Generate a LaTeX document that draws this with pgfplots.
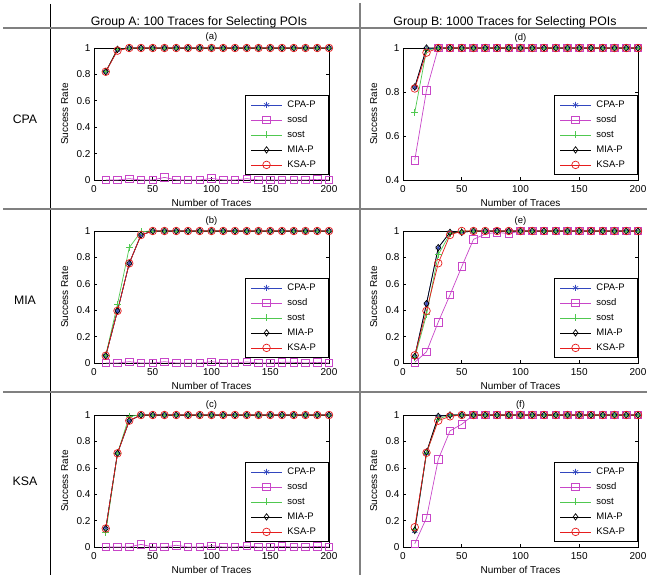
\documentclass[border=0pt]{standalone}
\usepackage{fontspec}
\setmainfont{Liberation Sans}
\usepackage{pgfplots}
\usepackage{pgfplotstable}
\pgfplotsset{compat=1.18}

\definecolor{cpac}{RGB}{50,70,190}
\definecolor{sosdc}{RGB}{200,70,200}
\definecolor{sostc}{RGB}{80,200,80}
\definecolor{ksac}{RGB}{230,30,30}

% (a) CPA, Group A
\pgfplotstableread{
x cpa sosd sost mia ksa
10 0.82 0 0.82 0.82 0.82
20 0.985 0 0.99 0.99 0.98
30 1 0.01 1 1 1
40 1 0 1 1 1
50 1 0 1 1 1
60 1 0.02 1 1 1
70 1 0 1 1 1
80 1 0 1 1 1
90 1 0 1 1 1
100 1 0.012 1 1 1
110 1 0 1 1 1
120 1 0 1 1 1
130 1 0.01 1 1 1
140 1 0 1 1 1
150 1 0 1 1 1
160 1 0 1 1 1
170 1 0 1 1 1
180 1 0 1 1 1
190 1 0.005 1 1 1
200 1 0 1 1 1
}\tabA
% (b) MIA, Group A
\pgfplotstableread{
x cpa sosd sost mia ksa
10 0.055 0 0.058 0.055 0.055
20 0.395 0 0.446 0.395 0.395
30 0.755 0.01 0.874 0.755 0.755
40 0.97 0 0.995 0.97 0.97
50 1 0 1 1 1
60 1 0.01 1 1 1
70 1 0 1 1 1
80 1 0 1 1 1
90 1 0 1 1 1
100 1 0.01 1 1 1
110 1 0 1 1 1
120 1 0 1 1 1
130 1 0.008 1 1 1
140 1 0 1 1 1
150 1 0 1 1 1
160 1 0.005 1 1 1
170 1 0.005 1 1 1
180 1 0 1 1 1
190 1 0.005 1 1 1
200 1 0 1 1 1
}\tabB
% (c) KSA, Group A
\pgfplotstableread{
x cpa sosd sost mia ksa
10 0.14 0 0.11 0.14 0.14
20 0.71 0 0.71 0.71 0.71
30 0.957 0 0.99 0.957 0.957
40 1 0.02 1 1 1
50 1 0 1 1 1
60 1 0 1 1 1
70 1 0.013 1 1 1
80 1 0 1 1 1
90 1 0 1 1 1
100 1 0.01 1 1 1
110 1 0 1 1 1
120 1 0 1 1 1
130 1 0.008 1 1 1
140 1 0 1 1 1
150 1 0 1 1 1
160 1 0.005 1 1 1
170 1 0 1 1 1
180 1 0 1 1 1
190 1 0.005 1 1 1
200 1 0 1 1 1
}\tabC
% (d) CPA, Group B
\pgfplotstableread{
x cpa sosd sost mia ksa
10 0.82 0.49 0.707 0.823 0.816
20 0.997 0.808 0.99 1 0.979
30 1 1 1 1 1
40 1 1 1 1 1
50 1 1 1 1 1
60 1 1 1 1 1
70 1 1 1 1 1
80 1 1 1 1 1
90 1 1 1 1 1
100 1 1 1 1 1
110 1 1 1 1 1
120 1 1 1 1 1
130 1 1 1 1 1
140 1 1 1 1 1
150 1 1 1 1 1
160 1 1 1 1 1
170 1 1 1 1 1
180 1 1 1 1 1
190 1 1 1 1 1
200 1 1 1 1 1
}\tabD
% (e) MIA, Group B
\pgfplotstableread{
x cpa sosd sost mia ksa
10 0.05 0.005 0.04 0.05 0.058
20 0.45 0.085 0.365 0.45 0.395
30 0.874 0.31 0.82 0.874 0.756
40 0.99 0.516 0.98 0.99 0.97
50 0.99 0.73 1 0.99 1
60 1 0.937 1 1 1
70 1 0.977 1 1 1
80 1 0.99 1 1 1
90 1 0.98 1 1 1
100 1 1 1 1 1
110 1 1 1 1 1
120 1 1 1 1 1
130 1 1 1 1 1
140 1 1 1 1 1
150 1 1 1 1 1
160 1 1 1 1 1
170 1 1 1 1 1
180 1 1 1 1 1
190 1 1 1 1 1
200 1 1 1 1 1
}\tabE
% (f) KSA, Group B
\pgfplotstableread{
x cpa sosd sost mia ksa
10 0.12 0.025 0.13 0.127 0.15
20 0.71 0.22 0.71 0.72 0.714
30 0.99 0.663 0.97 0.99 0.957
40 1 0.88 1 1 0.99
50 1 0.93 1 1 1
60 1 1 1 1 1
70 1 1 1 1 1
80 1 1 1 1 1
90 1 1 1 1 1
100 1 1 1 1 1
110 1 1 1 1 1
120 1 1 1 1 1
130 1 1 1 1 1
140 1 1 1 1 1
150 1 1 1 1 1
160 1 1 1 1 1
170 1 1 1 1 1
180 1 1 1 1 1
190 1 1 1 1 1
200 1 1 1 1 1
}\tabF

\pgfplotsset{
  myaxis/.style={
    scale only axis, width=235pt, height=132pt,
    anchor=south west,
    xmin=0, xmax=200, ymin=0, ymax=1,
    xtick={0,50,100,150,200},
    ytick={0,0.2,0.4,0.6,0.8,1},
    tick align=inside, tick pos=both, major tick length=3pt,
    axis line style={line width=0.7pt},
    every tick/.style={black, line width=0.6pt},
    ticklabel style={font=\fontsize{10}{12}\selectfont},
    /pgf/number format/assume math mode=true,
    xticklabel style={anchor=base, yshift=-12.7pt},
    xlabel={Number of Traces}, ylabel={Success Rate},
    label style={font=\fontsize{10}{12}\selectfont},
    xlabel style={at={(0.5,-0.197)}, anchor=base},
    ylabel style={at={(-0.1106,0.5)}, anchor=base},
    every axis title shift=0pt,
    title style={at={(0.5,1.0606)}, anchor=base, font=\fontsize{9.5}{11}\selectfont},
    clip=false,
    legend image code/.code={\draw[mark repeat=2,mark phase=2,#1, line width=0.7pt] plot coordinates {(0pt,0pt) (15.5pt,0pt) (31pt,0pt)};},
    legend style={at={(1,0.038)}, anchor=south east,
      font=\fontsize{9.5}{11}\selectfont, draw=black, line width=1.2pt,
      fill=white, inner xsep=5pt, inner ysep=2pt, column sep=2pt, row sep=0pt,
      cells={anchor=west},
      nodes={inner xsep=3pt, inner ysep=3pt, text height=7pt, text depth=2pt, text width=33pt}},
  },
  cpa/.style={cpac, line width=0.7pt, mark=asterisk, mark size=3pt, mark options={solid}},
  sosd/.style={sosdc, line width=0.7pt, mark=square, mark size=3.8pt},
  sost/.style={sostc, line width=0.7pt, mark=+, mark size=3.5pt},
  mia/.style={black, line width=0.7pt, mark=diamond, mark size=3.2pt},
  ksa/.style={ksac, line width=0.7pt, mark=o, mark size=3.8pt},
}

\newcommand{\fiveplots}[1]{%
  \addplot[cpa] table[x=x,y=cpa]{#1};
  \addplot[sosd] table[x=x,y=sosd]{#1};
  \addplot[sost] table[x=x,y=sost]{#1};
  \addplot[mia] table[x=x,y=mia]{#1};
  \addplot[ksa] table[x=x,y=ksa]{#1};
  \legend{CPA-P,sosd,sost,MIA-P,KSA-P}
}

\begin{document}
\begin{tikzpicture}
\path[use as bounding box] (0pt,0pt) rectangle (647pt,579pt);

% table lines
\draw[black, line width=0.8pt] (50pt,575pt) -- (50pt,4pt);
\draw[gray, line width=1.1pt] (360pt,576pt) -- (360pt,4pt);
\draw[gray, line width=1.1pt] (3pt,551pt) -- (647pt,551pt);
\draw[gray, line width=1.1pt] (3pt,370pt) -- (647pt,370pt);
\draw[gray, line width=1.1pt] (3pt,187pt) -- (647pt,187pt);

% headers
\node[font=\fontsize{12.3}{14}\selectfont] at (199pt,557pt) {Group A: 100 Traces for Selecting POIs};
\node[font=\fontsize{12.3}{14}\selectfont] at (505pt,557pt) {Group B: 1000 Traces for Selecting POIs};
\node[font=\fontsize{12.3}{14}\selectfont] at (25pt,460pt) {CPA};
\node[font=\fontsize{12.3}{14}\selectfont] at (25pt,279pt) {MIA};
\node[font=\fontsize{12.3}{14}\selectfont] at (25pt,98pt) {KSA};

\begin{axis}[myaxis, at={(94pt,399pt)}, title={(a)}]
\fiveplots{\tabA}
\end{axis}
\begin{axis}[myaxis, at={(403pt,399pt)}, title={(d)}, ymin=0.4, ytick={0.4,0.6,0.8,1}]
\fiveplots{\tabD}
\end{axis}
\begin{axis}[myaxis, at={(94pt,216pt)}, title={(b)}]
\fiveplots{\tabB}
\end{axis}
\begin{axis}[myaxis, at={(403pt,216pt)}, title={(e)}]
\fiveplots{\tabE}
\end{axis}
\begin{axis}[myaxis, at={(94pt,32pt)}, title={(c)}]
\fiveplots{\tabC}
\end{axis}
\begin{axis}[myaxis, at={(403pt,32pt)}, title={(f)}]
\fiveplots{\tabF}
\end{axis}
\end{tikzpicture}
\end{document}
